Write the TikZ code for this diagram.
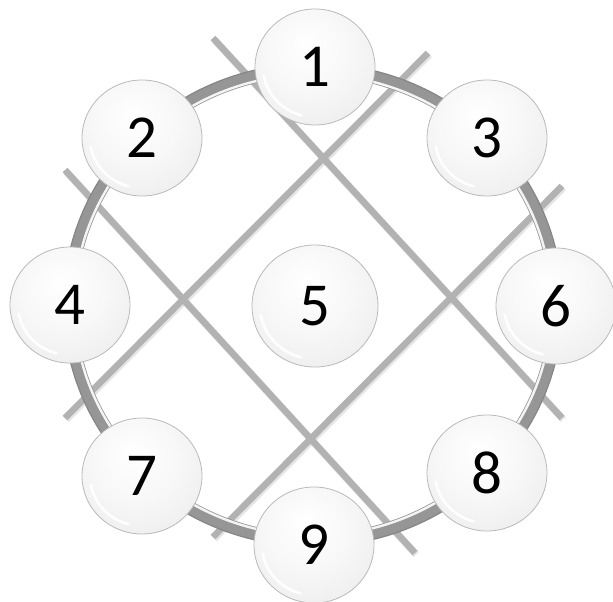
\documentclass[tikz,border=0pt]{standalone}
\usepackage{fontspec}
\setmainfont{Carlito}
\usetikzlibrary{shapes.geometric}
\pgfdeclareradialshading{glossy}{\pgfpoint{-4bp}{10bp}}{%
  color(0bp)=(white);
  color(18bp)=(gray!6);
  color(42bp)=(gray!18);
  color(52bp)=(gray!26);
  color(60bp)=(gray!32)}
\tikzset{
  ball/.style={ellipse, minimum width=120pt, minimum height=116pt, inner sep=0pt,
    shading=glossy, draw=gray!55, line width=0.8pt,
    font=\fontsize{61}{72}\selectfont, text=black},
  bigball/.style={ball, minimum width=126pt, minimum height=122pt},
  crossline/.style={draw=gray!60, line width=6.5pt},
  crossshadow/.style={draw=black, opacity=0.10, line width=7.5pt},
  ringbase/.style={draw=gray!82, line width=13pt},
  ringedge/.style={draw=gray!95, line width=1.2pt},
  ringhl/.style={draw=white, line width=2.4pt, opacity=0.9},
  hl/.style={draw=white, line width=2.6pt, opacity=0.95, line cap=round}
}
\begin{document}
\begin{tikzpicture}[x=1pt,y=-1pt]
\useasboundingbox (0,0) rectangle (613,602);
% end points of the four crossing lines
\coordinate (a1) at (213,38);  \coordinate (a2) at (562,418);
\coordinate (b1) at (428,53);  \coordinate (b2) at (65,418);
\coordinate (c1) at (65,170);  \coordinate (c2) at (415,553);
\coordinate (d1) at (562,186); \coordinate (d2) at (213,537);
% shadows of the lines
\foreach \p/\q in {a1/a2,b1/b2,c1/c2,d1/d2}
  \draw[crossshadow, transform canvas={shift={(1.2pt,-1.5pt)}}] (\p) -- (\q);
\foreach \p/\q in {a1/a2,b1/b2,c1/c2,d1/d2}
  \draw[crossline] (\p) -- (\q);
% ring
\coordinate (rc) at (313,305);
\draw[ringbase] (rc) ellipse[x radius=243, y radius=235];
\draw[ringedge] (rc) ellipse[x radius=249.5, y radius=241.5];
\draw[ringhl] (rc) ellipse[x radius=238.5, y radius=230.5];
% balls
\node[ball] (n1) at (315,67) {1};
\node[ball] (n2) at (142,138) {2};
\node[ball] (n3) at (487,138) {3};
\node[ball] (n4) at (70,305) {4};
\node[bigball] (n5) at (315,306) {5};
\node[ball] (n6) at (556,306) {6};
\node[ball] (n7) at (142,476) {7};
\node[ball] (n8) at (487,473) {8};
\node[ball] (n9) at (314,545) {9};
% glossy highlights
\foreach \n in {n1,n2,n3,n4,n6,n7,n8,n9}
  \draw[hl] (\n.center) ++(105:52 and 50) arc[start angle=105, end angle=170, x radius=52, y radius=50];
\draw[hl] (n5.center) ++(105:55 and 53) arc[start angle=105, end angle=170, x radius=55, y radius=53];
\end{tikzpicture}
\end{document}
